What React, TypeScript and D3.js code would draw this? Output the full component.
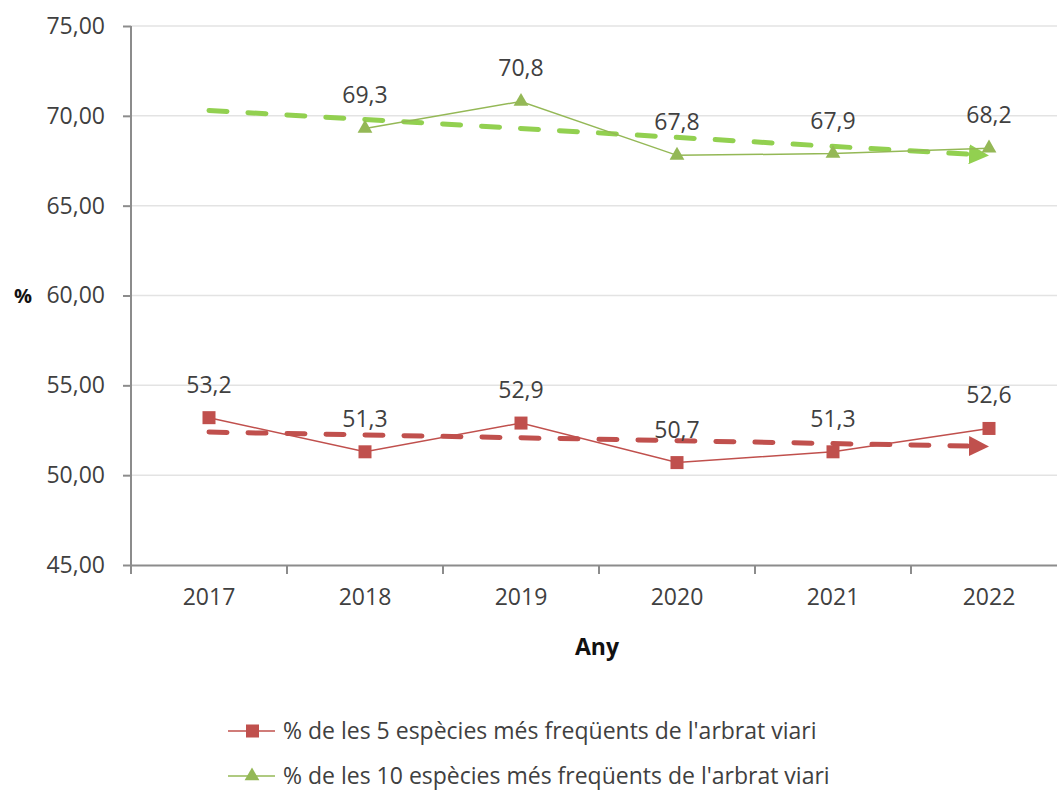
import * as d3 from "d3";
import { useEffect, useRef } from "react";

// ---- data ----
const years = ["2017", "2018", "2019", "2020", "2021", "2022"];
const top5 = [53.2, 51.3, 52.9, 50.7, 51.3, 52.6];
const top10: (number | null)[] = [null, 69.3, 70.8, 67.8, 67.9, 68.2];
// trend line end points (first year, last year)
const trend5 = [52.4, 51.6];
const trend10 = [70.3, 67.8];
const yTicks = [45, 50, 55, 60, 65, 70, 75];
const seriesNames = [
  "% de les 5 espècies més freqüents de l'arbrat viari",
  "% de les 10 espècies més freqüents de l'arbrat viari",
];

export default function App() {
  const ref = useRef<SVGSVGElement>(null);

  useEffect(() => {
    document.body.style.margin = "0";
    const width = 1057;
    const height = 794;
    const margin = { top: 26, right: -10, bottom: 229, left: 131 };
    const font = "'Open Sans', 'Noto Sans', sans-serif";
    const fs = 23;
    const red = "#c0504d";
    const green = "#94b856";
    const greenTrend = "#92d050";

    const svg = d3.select(ref.current);
    svg.selectAll("*").remove();
    svg.attr("viewBox", `0 0 ${width} ${height}`);

    const innerW = width - margin.left - margin.right;
    const innerH = height - margin.top - margin.bottom;
    const g = svg.append("g").attr("transform", `translate(${margin.left},${margin.top})`);

    const x = d3.scaleBand().domain(years).range([0, innerW]);
    const y = d3.scaleLinear().domain([45, 75]).range([innerH, 0]);
    const cx = (d: string) => (x(d) ?? 0) + x.bandwidth() / 2;

    // grid
    g.append("g")
      .selectAll("line")
      .data(yTicks.slice(1))
      .join("line")
      .attr("x1", 0)
      .attr("x2", innerW)
      .attr("y1", (d) => y(d))
      .attr("y2", (d) => y(d))
      .attr("stroke", "#e3e3e3")
      .attr("stroke-width", 1.5);

    // y axis
    const yAxis = g.append("g").call(
      d3.axisLeft(y).tickValues(yTicks).tickSize(8).tickPadding(18).tickFormat((d) => d3.format(".2f")(d as number).replace(".", ","))
    );
    // x axis
    const xAxis = g.append("g")
      .attr("transform", `translate(0,${innerH})`)
      .call(d3.axisBottom(x).tickSize(0).tickPadding(24));
    xAxis.append("g")
      .selectAll("line")
      .data(d3.range(years.length + 1))
      .join("line")
      .attr("x1", (i) => i * x.bandwidth())
      .attr("x2", (i) => i * x.bandwidth())
      .attr("y1", 0)
      .attr("y2", 9)
      .attr("stroke", "#8c8c8c")
      .attr("stroke-width", 2);

    [yAxis, xAxis].forEach((a) => {
      a.selectAll(".domain").attr("stroke", "#8c8c8c").attr("stroke-width", 2);
      a.selectAll(".tick line").attr("stroke", "#8c8c8c").attr("stroke-width", 2);
      a.selectAll("text").attr("font-family", font).attr("font-size", fs).attr("fill", "#404040");
    });
    yAxis.select(".domain").attr("d", `M0,${innerH + 8}V0`);

    // trend lines
    const defs = svg.append("defs");
    const arrow = (id: string, color: string) =>
      defs.append("marker")
        .attr("id", id)
        .attr("viewBox", "0 0 10 10")
        .attr("refX", 2)
        .attr("refY", 5)
        .attr("markerWidth", 4)
        .attr("markerHeight", 4)
        .attr("orient", "auto")
        .attr("markerUnits", "strokeWidth")
        .append("path")
        .attr("d", "M0,0L10,5L0,10Z")
        .attr("fill", color);
    arrow("arrRed", red);
    arrow("arrGreen", greenTrend);

    const trends: [number[], string, string][] = [
      [trend5, red, "arrRed"],
      [trend10, greenTrend, "arrGreen"],
    ];
    trends.forEach(([t, c, id]) => {
      g.append("line")
        .attr("x1", cx(years[0]))
        .attr("x2", cx(years[years.length - 1]) - 16)
        .attr("y1", y(t[0]))
        .attr("y2", y(t[1]) + (y(t[0]) - y(t[1])) * 0.02)
        .attr("stroke", c)
        .attr("stroke-width", 5)
        .attr("stroke-linecap", "round")
        .attr("stroke-dasharray", "18 21")
        .attr("marker-end", `url(#${id})`);
    });

    // series lines
    const line = d3.line<number | null>()
      .defined((d) => d != null)
      .x((_, i) => cx(years[i]))
      .y((d) => y(d as number));

    g.append("path").datum(top5).attr("d", line).attr("fill", "none").attr("stroke", red).attr("stroke-width", 1.5);
    g.append("path").datum(top10).attr("d", line).attr("fill", "none").attr("stroke", green).attr("stroke-width", 1.5);

    // markers
    g.selectAll(".sq")
      .data(top5)
      .join("rect")
      .attr("x", (_, i) => cx(years[i]) - 6.5)
      .attr("y", (d) => y(d) - 6.5)
      .attr("width", 13)
      .attr("height", 13)
      .attr("fill", red);

    const tri = d3.symbol().type(d3.symbolTriangle).size(95);
    g.selectAll(".tri")
      .data(top10.map((v, i) => ({ v, i })).filter((d) => d.v != null))
      .join("path")
      .attr("d", tri)
      .attr("transform", (d) => `translate(${cx(years[d.i])},${y(d.v as number)})`)
      .attr("fill", green);

    // labels
    const fmt = (v: number) => d3.format(".1f")(v).replace(".", ",");
    const labelOff = 25;
    g.selectAll(".l5")
      .data(top5)
      .join("text")
      .attr("x", (_, i) => cx(years[i]))
      .attr("y", (d) => y(d) - labelOff)
      .attr("text-anchor", "middle")
      .attr("font-family", font)
      .attr("font-size", fs)
      .attr("fill", "#404040")
      .text((d) => fmt(d));
    g.selectAll(".l10")
      .data(top10.map((v, i) => ({ v, i })).filter((d) => d.v != null))
      .join("text")
      .attr("x", (d) => cx(years[d.i]))
      .attr("y", (d) => y(d.v as number) - labelOff)
      .attr("text-anchor", "middle")
      .attr("font-family", font)
      .attr("font-size", fs)
      .attr("fill", "#404040")
      .text((d) => fmt(d.v as number));

    // axis titles
    svg.append("text")
      .attr("x", 23)
      .attr("y", margin.top + y(60) + 7)
      .attr("text-anchor", "middle")
      .attr("font-family", font)
      .attr("font-size", 20)
      .attr("font-weight", 700)
      .attr("fill", "#111")
      .text("%");
    svg.append("text")
      .attr("x", 597)
      .attr("y", 655)
      .attr("text-anchor", "middle")
      .attr("font-family", font)
      .attr("font-size", 23)
      .attr("font-weight", 700)
      .attr("fill", "#111")
      .text("Any");

    // legend
    const legend = svg.append("g").attr("transform", "translate(228,731)");
    const colors = [red, green];
    seriesNames.forEach((name, i) => {
      const lg = legend.append("g").attr("transform", `translate(0,${i * 45})`);
      lg.append("line").attr("x1", 0).attr("x2", 47).attr("y1", 0).attr("y2", 0).attr("stroke", colors[i]).attr("stroke-width", 1.5);
      if (i === 0) {
        lg.append("rect").attr("x", 18).attr("y", -6.5).attr("width", 13).attr("height", 13).attr("fill", red);
      } else {
        lg.append("path").attr("d", tri).attr("transform", "translate(24,0)").attr("fill", green);
      }
      lg.append("text")
        .attr("x", 55)
        .attr("y", 8)
        .attr("font-family", font)
        .attr("font-size", fs)
        .attr("fill", "#404040")
        .text(name);
    });
  }, []);

  return <svg ref={ref} width={1057} height={794} style={{ display: "block" }} />;
}
